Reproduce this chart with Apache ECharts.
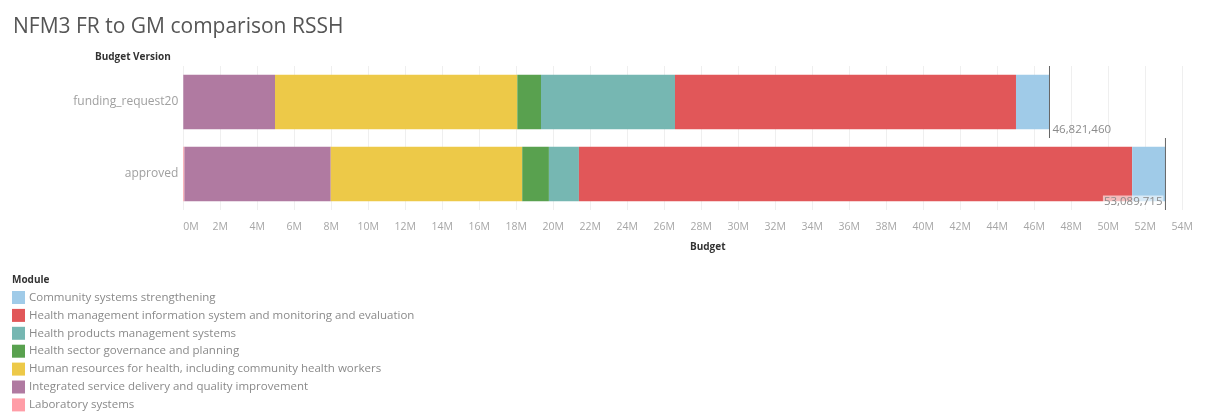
<!DOCTYPE html>
<html>
<head>
<meta charset="utf-8">
<script src="https://cdn.jsdelivr.net/npm/echarts@6/dist/echarts.min.js"></script>
<style>
  html, body { margin: 0; padding: 0; background: #fff; }
  #chart { width: 1208px; height: 412px; }
</style>
</head>
<body>
<div id="chart"></div>
<script>
// Budget versions (rows, top to bottom)
const versions = ['funding_request20', 'approved'];

// Modules in stacking order (left to right)
const modules = [
  'Laboratory systems',
  'Integrated service delivery and quality improvement',
  'Human resources for health, including community health workers',
  'Health sector governance and planning',
  'Health products management systems',
  'Health management information system and monitoring and evaluation',
  'Community systems strengthening'
];

// Legend order (alphabetical)
const legendOrder = [
  'Community systems strengthening',
  'Health management information system and monitoring and evaluation',
  'Health products management systems',
  'Health sector governance and planning',
  'Human resources for health, including community health workers',
  'Integrated service delivery and quality improvement',
  'Laboratory systems'
];

const moduleColors = ['#ff9da7', '#b07aa1', '#edc948', '#59a14f', '#76b7b2', '#e15759', '#a0cbe8'];

// Budget per module, [funding_request20, approved]
const laboratory      = [0, 60000];
const integrated      = [4957000, 7910000];
const humanResources  = [13097000, 10350000];
const governance      = [1281000, 1443000];
const products        = [7243000, 1622000];
const hmis            = [18432000, 29904715];
const community       = [1811460, 1800000];

const moduleValues = [laboratory, integrated, humanResources, governance, products, hmis, community];

// Axis ticks
const axisMin = 0;
const axisMax = 54000000;
const axisStep = 2000000;

// Row totals
const totals = versions.map((_, i) => moduleValues.reduce((s, arr) => s + arr[i], 0));

const FONT = '"Open Sans", "Noto Sans", sans-serif';

const barSeries = modules.map((name, k) => ({
  name: name,
  type: 'bar',
  stack: 'budget',
  barWidth: '76%',
  itemStyle: { color: moduleColors[k] },
  emphasis: { disabled: true },
  data: moduleValues[k]
}));

// Reference line with total label at the end of each row
const totalSeries = {
  type: 'custom',
  name: 'total',
  silent: true,
  z: 10,
  data: totals.map((t, i) => [t, i]),
  renderItem: function (params, api) {
    const v = api.value(0);
    const c = api.coord([v, api.value(1)]);
    const band = api.size([0, 1])[1];
    const top = c[1] - band / 2;
    const bottom = c[1] + band / 2;
    const text = v.toLocaleString('en-US');
    const rightEdge = params.coordSys.x + params.coordSys.width;
    const fits = c[0] + 62 < rightEdge;
    return {
      type: 'group',
      children: [
        {
          type: 'line',
          shape: { x1: c[0], y1: top, x2: c[0], y2: bottom },
          style: { stroke: '#666', lineWidth: 1 }
        },
        {
          type: 'text',
          x: fits ? c[0] + 2 : c[0] - 2,
          y: bottom - 8,
          style: {
            text: text,
            fill: '#8a8a8a',
            font: '11.5px ' + FONT,
            align: fits ? 'left' : 'right',
            verticalAlign: 'middle',
            backgroundColor: fits ? 'transparent' : 'rgba(255,255,255,0.6)',
            padding: [1, 1, 0, 1]
          }
        }
      ]
    };
  }
};

const chart = echarts.init(document.getElementById('chart'), null, { renderer: 'canvas' });

chart.setOption({
  backgroundColor: '#fff',
  animation: false,
  textStyle: { fontFamily: FONT },
  title: {
    text: 'NFM3 FR to GM comparison RSSH',
    left: 8,
    top: 12,
    textStyle: { fontSize: 21, fontWeight: 'normal', color: '#555', fontFamily: FONT }
  },
  legend: {
    orient: 'vertical',
    left: 12,
    top: 291,
    height: 130,
    padding: 0,
    icon: 'rect',
    itemWidth: 13,
    itemHeight: 13,
    itemGap: 4.9,
    selectedMode: false,
    data: legendOrder,
    textStyle: { fontSize: 11.5, color: '#8a8a8a', fontFamily: FONT, padding: [0, 0, 0, -1] }
  },
  grid: {
    left: 183.3,
    right: 25.7,
    top: 66,
    bottom: 202
  },
  xAxis: {
    type: 'value',
    min: axisMin,
    max: axisMax,
    interval: axisStep,
    axisLine: { show: false },
    axisTick: { show: false },
    splitLine: { show: true, lineStyle: { color: '#efefef', width: 1 } },
    axisLabel: {
      color: '#a6a6a6',
      fontSize: 10.5,
      margin: 12,
      alignMinLabel: 'left',
      formatter: v => Math.round(v / 1000000) + 'M'
    }
  },
  yAxis: {
    type: 'category',
    inverse: true,
    data: versions,
    axisLine: { show: false },
    axisTick: { show: false },
    splitLine: { show: false },
    axisLabel: { color: '#a0a0a0', fontSize: 12, margin: 5 }
  },
  graphic: [
    {
      type: 'text', left: 95, top: 52,
      style: { text: 'Budget Version', font: 'bold 10px ' + FONT, fill: '#333' }
    },
    {
      type: 'text', left: 690, top: 242,
      style: { text: 'Budget', font: 'bold 10px ' + FONT, fill: '#333' }
    },
    {
      type: 'text', left: 12, top: 275,
      style: { text: 'Module', font: 'bold 10px ' + FONT, fill: '#333' }
    }
  ],
  series: barSeries.concat([totalSeries])
});
</script>
</body>
</html>
